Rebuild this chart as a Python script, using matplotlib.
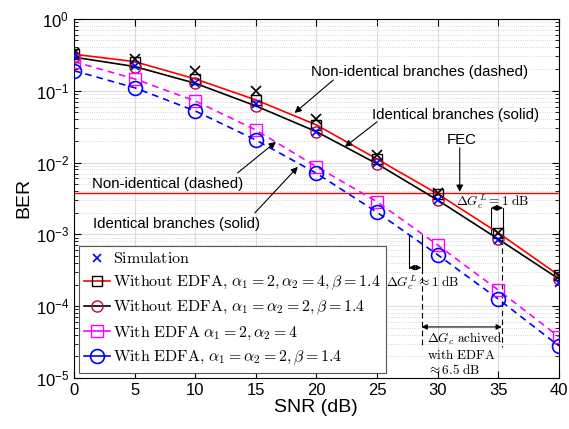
import matplotlib
matplotlib.use("Agg")
import matplotlib.pyplot as plt
from matplotlib.lines import Line2D
from matplotlib.ticker import LogLocator, NullFormatter

plt.rcParams['font.family'] = ['Liberation Sans', 'DejaVu Sans']
plt.rcParams['mathtext.fontset'] = 'cm'

snr = [0, 5, 10, 15, 20, 25, 30, 35, 40]

# analytical curves
ber_noedfa_nonid = [0.322, 0.254, 0.146, 0.0745, 0.0334, 0.0112, 0.00366, 0.00105, 2.7e-4]
ber_noedfa_id = [0.293, 0.217, 0.127, 0.0614, 0.0269, 0.0096, 0.0030, 8.6e-4, 2.4e-4]
ber_edfa_nonid = [0.254, 0.146, 0.072, 0.0284, 0.00877, 0.00285, 7.1e-4, 1.68e-4, 3.76e-5]
ber_edfa_id = [0.19, 0.110, 0.0523, 0.0206, 0.0071, 0.00203, 5.2e-4, 1.26e-4, 2.8e-5]

# simulation points
sim_nonid = [0.336, 0.277, 0.188, 0.100, 0.0401, 0.0128, 0.0038, 0.00104, 2.6e-4]
sim_id = [0.300, 0.220, 0.130, 0.065, 0.027, 0.0098, 0.0030, 8.3e-4, 2.1e-4]

fec = 3.8e-3

fig = plt.figure(figsize=(5.69, 4.29), dpi=100)
ax = fig.add_axes([0.130, 0.119, 0.852, 0.837])

ax.plot(snr, ber_noedfa_nonid, '-', color='red', lw=1.2, zorder=3)
ax.plot(snr, ber_noedfa_id, '-', color='black', lw=1.2, zorder=3)
ax.plot(snr, ber_noedfa_nonid, 's', color='black', mfc='none', ms=7, mew=1.0, zorder=4)
ax.plot(snr, ber_noedfa_id, 'o', color='#b01030', mfc='none', ms=8, mew=1.0, zorder=4)
ax.plot(snr, ber_edfa_nonid, '--', color='magenta', lw=1.2, dashes=(4, 3), zorder=3)
ax.plot(snr, ber_edfa_nonid, 's', color='magenta', mfc='none', ms=8, mew=1.0, zorder=4)
ax.plot(snr, ber_edfa_id, '--', color='blue', lw=1.2, dashes=(4, 3), zorder=3)
ax.plot(snr, ber_edfa_id, 'o', color='blue', mfc='none', ms=10, mew=1.2, zorder=4)
ax.plot(snr, sim_nonid, 'x', color='black', ms=7, mew=1.2, zorder=5)
ax.plot(snr, sim_id, 'x', color='blue', ms=6, mew=1.2, zorder=5)

ax.axhline(fec, color='red', lw=1.0, zorder=2)

ax.set_yscale('log')
ax.set_xlim(0, 40)
ax.set_ylim(1e-5, 1)
ax.set_xticks(range(0, 41, 5))
ax.yaxis.set_major_locator(LogLocator(base=10, numticks=10))
ax.yaxis.set_minor_locator(LogLocator(base=10, subs=range(2, 10), numticks=20))
ax.yaxis.set_minor_formatter(NullFormatter())
ax.tick_params(which='both', direction='in', top=True, right=True, labelsize=12)
ax.tick_params(which='major', length=5)
ax.tick_params(which='minor', length=3)
ax.grid(True, which='major', color='#dcdcdc', lw=0.8, zorder=0)
ax.grid(True, which='minor', axis='y', color='#cccccc', lw=0.6, ls=':', zorder=0)
ax.set_axisbelow(True)
ax.set_xlabel('SNR (dB)', fontsize=14, labelpad=1)
ax.set_ylabel('BER', fontsize=14, labelpad=2)

arrow = dict(arrowstyle='-|>', color='black', lw=0.8, mutation_scale=10, shrinkA=0, shrinkB=0)

ax.text(28.5, 0.183, 'Non-identical branches (dashed)', fontsize=10.8, ha='center', va='center')
ax.annotate('', xy=(18.2, 0.049), xytext=(21.4, 0.141), arrowprops=arrow)
ax.text(31.5, 0.046, 'Identical branches (solid)', fontsize=10.8, ha='center', va='center')
ax.annotate('', xy=(22.35, 0.0165), xytext=(25.0, 0.0368), arrowprops=arrow)
ax.text(32.0, 0.0206, 'FEC', fontsize=10.8, ha='center', va='center')
ax.annotate('', xy=(31.83, 0.0039), xytext=(31.83, 0.016), arrowprops=arrow)
ax.text(7.7, 0.00503, 'Non-identical (dashed)', fontsize=10.8, ha='center', va='center')
ax.annotate('', xy=(16.66, 0.0194), xytext=(13.5, 0.00716), arrowprops=arrow)
ax.text(8.45, 0.0014, 'Identical branches (solid)', fontsize=10.8, ha='center', va='center')
ax.annotate('', xy=(18.47, 0.0087), xytext=(14.93, 0.00199), arrowprops=arrow)

# gain markers without EDFA
ax.plot([34.4, 34.4], [0.00233, 0.00104], color='black', lw=0.8)
ax.plot([35.4, 35.4], [0.00233, 0.00093], color='black', lw=0.8)
ax.annotate('', xy=(34.4, 0.00233), xytext=(35.4, 0.00233),
            arrowprops=dict(arrowstyle='<|-|>', color='black', lw=0.8, mutation_scale=8, shrinkA=0, shrinkB=0))
ax.text(34.55, 0.00283, r'$\Delta G_c^L = 1\ \mathrm{dB}$', fontsize=9.5, ha='center', va='center')

# gain markers with EDFA
ax.plot([27.63, 27.63], [9.8e-4, 3.44e-4], color='black', lw=0.8)
ax.plot([28.68, 28.68], [9.8e-4, 3.44e-4], color='black', lw=0.8)
ax.annotate('', xy=(27.63, 3.44e-4), xytext=(28.68, 3.44e-4),
            arrowprops=dict(arrowstyle='<|-|>', color='black', lw=0.8, mutation_scale=8, shrinkA=0, shrinkB=0))
ax.text(28.8, 2.1e-4, r'$\Delta G_c^L \approx 1\ \mathrm{dB}$', fontsize=9.5, ha='center', va='center')

# overall gain
ax.plot([28.68, 28.68], [3.44e-4, 2.7e-5], color='black', lw=0.8, ls=(0, (5, 3)))
ax.plot([35.3, 35.3], [8.5e-4, 2.7e-5], color='black', lw=0.8, ls=(0, (5, 3)))
ax.annotate('', xy=(28.68, 5.13e-5), xytext=(35.3, 5.13e-5),
            arrowprops=dict(arrowstyle='<|-|>', color='black', lw=0.8, mutation_scale=8, shrinkA=0, shrinkB=0))
ax.text(29.1, 4.5e-5, '$\\Delta G_c\\ \\mathrm{achived}$\n$\\mathrm{with\\ EDFA}$\n$\\approx 6.5\\ \\mathrm{dB}$',
        fontsize=9.5, ha='left', va='top', multialignment='left', linespacing=1.1)

handles = [
    Line2D([], [], ls='none', marker='x', color='blue', ms=6, mew=1.2),
    Line2D([], [], ls='-', color='red', lw=1.2, marker='s', mec='black', mfc='none', ms=7),
    Line2D([], [], ls='-', color='black', lw=1.2, marker='o', mec='#b01030', mfc='none', ms=8),
    Line2D([], [], ls='-', color='magenta', lw=1.2, marker='s', mfc='none', ms=8),
    Line2D([], [], ls='-', color='blue', lw=1.2, marker='o', mfc='none', ms=10, mew=1.2),
]
labels = [
    r'$\mathrm{Simulation}$',
    r'$\mathrm{Without\ EDFA},\, \alpha_1=2, \alpha_2=4, \beta=1.4$',
    r'$\mathrm{Without\ EDFA},\, \alpha_1=\alpha_2=2, \beta=1.4$',
    r'$\mathrm{With\ EDFA}\ \alpha_1=2, \alpha_2=4$',
    r'$\mathrm{With\ EDFA},\, \alpha_1=\alpha_2=2, \beta=1.4$',
]
leg = ax.legend(handles, labels, loc='lower left', bbox_to_anchor=(0.01, 0.014), borderaxespad=0,
                fontsize=11.5, handlelength=1.6, handletextpad=0.2, labelspacing=0.45,
                fancybox=False, framealpha=1, edgecolor='#555555', borderpad=0.35)
leg.get_frame().set_linewidth(0.8)

fig.savefig('out.png', dpi=100)
